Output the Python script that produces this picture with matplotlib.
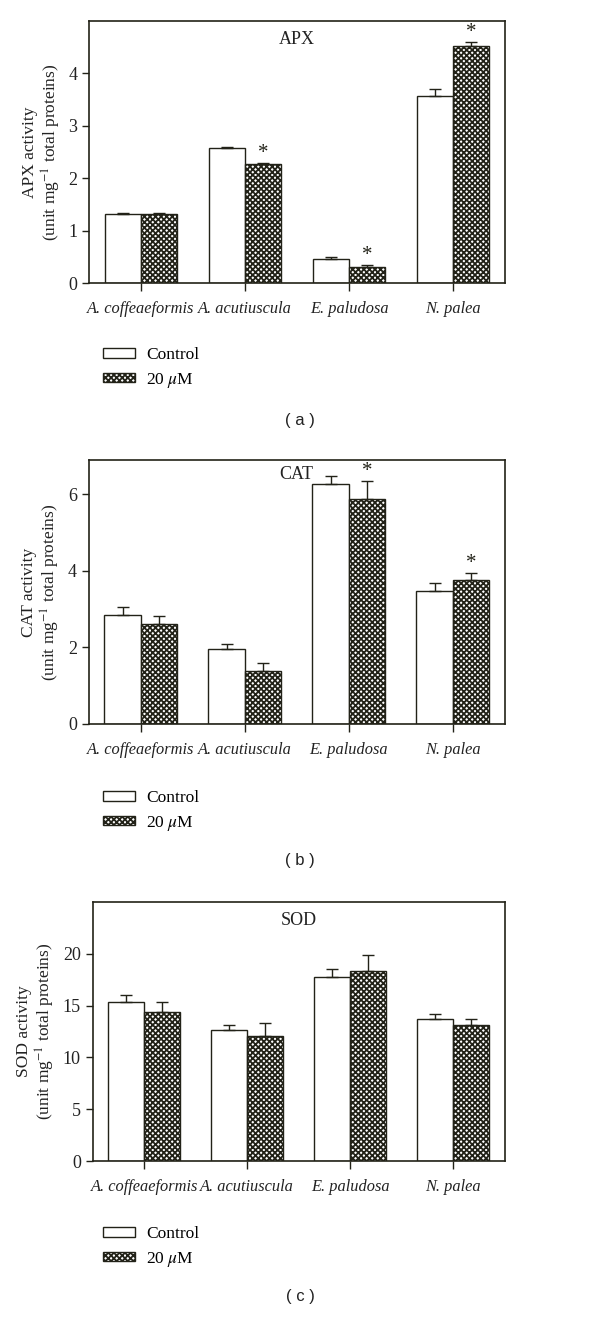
import matplotlib
matplotlib.use("Agg")
import matplotlib.pyplot as plt
import numpy as np
from matplotlib.patches import Patch

plt.rcParams['font.family'] = ['Liberation Serif', 'DejaVu Serif']
plt.rcParams['hatch.linewidth'] = 1.3
plt.rcParams['mathtext.fontset'] = 'stix'

species = ["A. coffeaeformis", "A. acutiuscula", "E. paludosa", "N. palea"]
series_labels = ["Control", "20 $\\mu$M"]

apx_control = [1.32, 2.58, 0.45, 3.57]
apx_control_err = [0.01, 0.02, 0.05, 0.13]
apx_treat = [1.32, 2.27, 0.31, 4.53]
apx_treat_err = [0.01, 0.02, 0.03, 0.07]
apx_sig = [False, True, True, True]

cat_control = [2.85, 1.95, 6.26, 3.47]
cat_control_err = [0.20, 0.14, 0.21, 0.21]
cat_treat = [2.62, 1.39, 5.89, 3.76]
cat_treat_err = [0.20, 0.21, 0.46, 0.18]
cat_sig = [False, False, True, True]

sod_control = [15.38, 12.66, 17.72, 13.68]
sod_control_err = [0.60, 0.45, 0.77, 0.55]
sod_treat = [14.36, 12.10, 18.33, 13.17]
sod_treat_err = [0.95, 1.20, 1.57, 0.50]

panels = [
    dict(name="APX", ctrl=apx_control, ce=apx_control_err, trt=apx_treat, te=apx_treat_err,
         sig=apx_sig, ylim=5.0, yticks=[0, 1, 2, 3, 4], rect=[89/600, 1-283/1317, 416/600, 262/1317],
         title_xy=(1.5, 4.64), letter="( a )", leg_y=347, let_y=421),
    dict(name="CAT", ctrl=cat_control, ce=cat_control_err, trt=cat_treat, te=cat_treat_err,
         sig=cat_sig, ylim=6.9, yticks=[0, 2, 4, 6], rect=[88.7/600, 1-724/1317, 416/600, 264/1317],
         title_xy=(1.5, 6.52), letter="( b )", leg_y=790, let_y=861),
    dict(name="SOD", ctrl=sod_control, ce=sod_control_err, trt=sod_treat, te=sod_treat_err,
         sig=[False]*4, ylim=25, yticks=[0, 5, 10, 15, 20], rect=[92.7/600, 1-1161/1317, 412/600, 259/1317],
         title_xy=(1.5, 23.2), letter="( c )", leg_y=1226, let_y=1297),
]

ink = '#222218'
hatch = 'xxxxxx'
fig = plt.figure(figsize=(6.0, 13.17), dpi=100)
x = np.arange(len(species))
w = 0.35

for p in panels:
    ax = fig.add_axes(p["rect"])
    ax.bar(x - w/2, p["ctrl"], w, color='white', edgecolor=ink, linewidth=1.0, label=series_labels[0])
    ax.bar(x + w/2, p["trt"], w, color='white', edgecolor=ink, hatch=hatch, linewidth=1.0,
           label=series_labels[1])
    ax.errorbar(x - w/2, p["ctrl"], yerr=[np.zeros(4), p["ce"]], fmt='none', ecolor=ink,
                elinewidth=1.0, capsize=4, capthick=1.0)
    ax.errorbar(x + w/2, p["trt"], yerr=[np.zeros(4), p["te"]], fmt='none', ecolor=ink,
                elinewidth=1.0, capsize=4, capthick=1.0)
    for i in range(4):
        if p["sig"][i]:
            top = p["trt"][i] + p["te"][i]
            ax.annotate("*", (x[i] + w/2, top), xytext=(0, 0), textcoords='offset points',
                        ha='center', va='bottom', fontsize=15, color=ink)
    ax.set_xlim(-0.5, 3.5)
    ax.set_ylim(0, p["ylim"])
    ax.set_yticks(p["yticks"])
    ax.set_xticks(x)
    ax.set_xticklabels(species, fontstyle='italic', fontsize=11.8)
    ax.tick_params(axis='y', colors=ink, labelcolor='#222', labelsize=13, length=5, width=1.0,
                   direction='out')
    ax.tick_params(axis='x', colors=ink, labelcolor='#222', length=6, width=1.0, pad=7)
    for s in ax.spines.values():
        s.set_color(ink)
        s.set_linewidth(1.2)
    ax.text(p["title_xy"][0], p["title_xy"][1], p["name"], ha='center', va='center', fontsize=13,
            color='#222')
    ax.set_ylabel(p["name"] + " activity\n(unit mg$^{-1}$ total proteins)", fontsize=12.5,
                  linespacing=1.1, color='#222', labelpad=4)
    fig.legend(handles=[Patch(facecolor='white', edgecolor=ink, linewidth=1.0),
                        Patch(facecolor='white', edgecolor=ink, hatch=hatch, linewidth=1.0)],
               labels=series_labels, loc='upper left',
               bbox_to_anchor=(103/600, 1 - p["leg_y"]/1317), frameon=False, fontsize=12.5,
               handlelength=1.85, handleheight=0.48, handletextpad=0.65, labelspacing=0.45,
               borderpad=0, borderaxespad=0)
    fig.text(300/600, 1 - p["let_y"]/1317, p["letter"], ha='center', va='center', fontsize=12,
             family='Liberation Sans', color='#222')

fig.savefig("out.png", dpi=100)
